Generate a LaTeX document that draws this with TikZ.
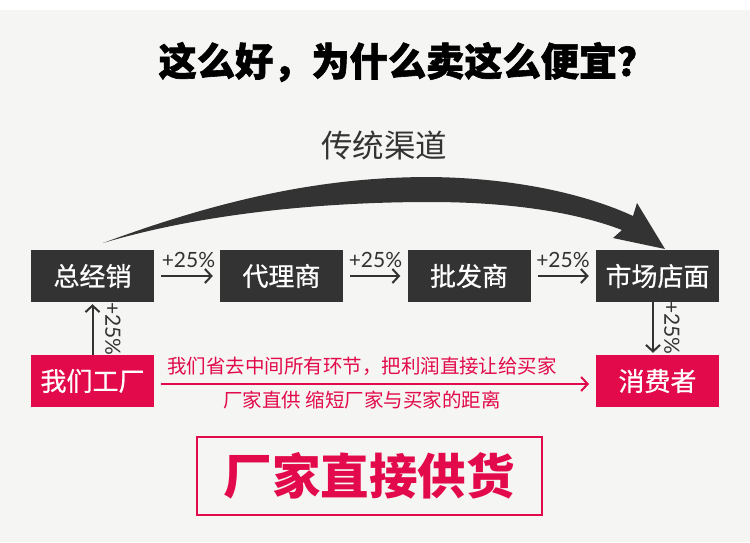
\documentclass[tikz,border=0pt]{standalone}
\usepackage{fontspec}
\setmainfont{Lato}
\newfontfamily\cjk{Noto Sans CJK SC}
\newfontfamily\cjkheavy{Noto Sans CJK SC}[BoldFeatures={FakeBold=1.6}]
\newfontfamily\cjkmed{Noto Sans CJK SC}[FakeBold=0.6]
\usetikzlibrary{arrows.meta}
\definecolor{dark}{HTML}{333333}
\definecolor{bg}{HTML}{F5F5F3}
\definecolor{crim}{HTML}{E20A4A}
\begin{document}
\begin{tikzpicture}[x=1pt,y=-1pt,
  box/.style={minimum width=123pt, minimum height=52pt, inner sep=0pt, text=white, font=\cjkmed\fontsize{26}{26}\selectfont},
  darkbox/.style={box, fill=dark},
  redbox/.style={box, fill=crim},
  flow/.style={draw=dark, line width=2pt, -{Straight Barb[length=6.5pt,width=14pt,line width=2pt]}},
  pct/.style={font=\fontsize{21}{21}\selectfont, text=dark, inner sep=0pt},
  redtxt/.style={font=\cjk\fontsize{19.5}{20}\selectfont, text=crim, inner sep=0pt}]
\useasboundingbox (0,0) rectangle (750,542);
\fill[white] (0,0) rectangle (750,542);
\fill[bg] (0,10) rectangle (750,542);

% title
\node[font=\cjkheavy\bfseries\fontsize{39}{40}\selectfont, inner sep=0pt, xscale=0.98] (title) at (407,62) {这么好，为什么卖这么便宜？};
\node[font=\cjk\fontsize{31.5}{32}\selectfont, text=dark, inner sep=0pt] (trad) at (384,145) {传统渠道};

% big curved arrow
\fill[dark] (103,243) .. controls (230,196) and (330,177) .. (430,177)
  .. controls (520,178) and (590,196) .. (633,216)
  -- (637,203) -- (665,249) -- (613,238) -- (622,230)
  .. controls (570,210) and (500,202) .. (430,202)
  .. controls (320,202) and (200,214) .. (103,243) -- cycle;

% boxes
\node[darkbox] (zjx) at (92.5,276) {总经销};
\node[darkbox] (dls) at (281.5,276) {代理商};
\node[darkbox] (pfs) at (469,276) {批发商};
\node[darkbox] (scdm) at (657.5,276) {市场店面};
\node[redbox] (wmgc) at (92.5,381) {我们工厂};
\node[redbox] (xfz) at (657.5,381) {消费者};

% horizontal arrows
\draw[flow, shorten <=7pt, shorten >=7pt] (zjx.east) -- (dls.west);
\draw[flow, shorten <=7pt, shorten >=7pt] (dls.east) -- (pfs.west);
\draw[flow, shorten <=7pt, shorten >=7pt] (pfs.east) -- (scdm.west);
\node[pct] (p1) at (188.5,260) {+25\%};
\node[pct] (p2) at (375.5,260) {+25\%};
\node[pct] (p3) at (563,260) {+25\%};

% vertical arrows
\draw[flow, shorten >=2pt] (wmgc.north) -- (zjx.south);
\draw[flow, shorten >=2pt] (scdm.south -| xfz.north) ++(-4.5,0) coordinate (vs) -- (vs |- xfz.north);
\node[pct, rotate=-90] (p4) at (113,329) {+25\%};
\node[pct, rotate=-90] (p5) at (672,328) {+25\%};

% red arrow
\coordinate (rs) at (161,384);
\coordinate (re) at (589,384);
\draw[crim, line width=2pt, -{Straight Barb[length=6.5pt,width=14pt,line width=2pt]}] (rs) -- (re);
\node[redtxt] (r1) at (362,366) {我们省去中间所有环节，把利润直接让给买家};
\node[redtxt] (r2) at (362,400) {厂家直供 缩短厂家与买家的距离};

% bottom box
\node[draw=crim, line width=2pt, minimum width=345pt, minimum height=78pt, inner sep=0pt,
  text=crim, font=\cjk\bfseries\fontsize{48.5}{49}\selectfont] (cj) at (369,475.5) {厂家直接供货};
\end{tikzpicture}
\end{document}
